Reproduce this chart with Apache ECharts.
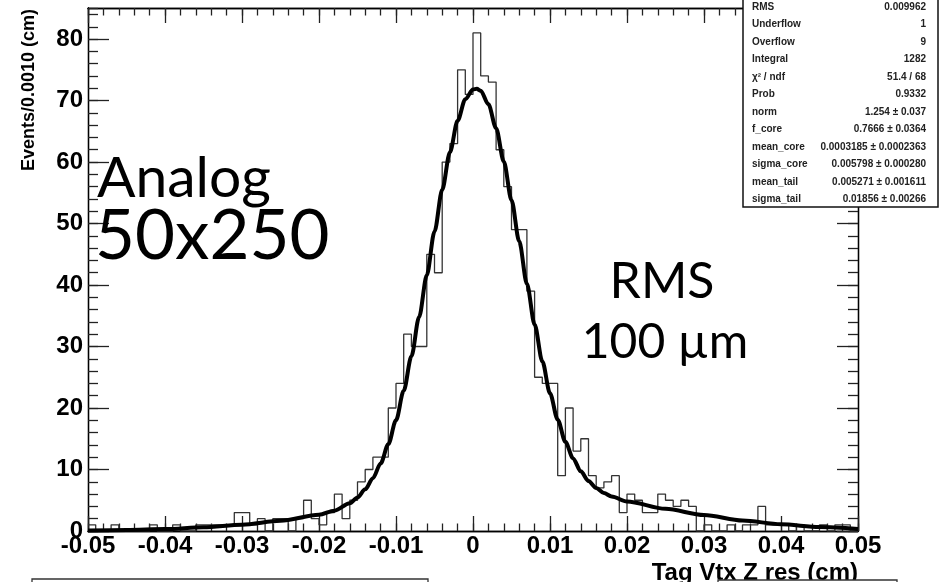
<!DOCTYPE html>
<html><head><meta charset="utf-8">
<script src="https://cdn.jsdelivr.net/npm/echarts@6/dist/echarts.min.js"></script>
<style>html,body{margin:0;padding:0;background:#fff;overflow:hidden}#c{width:943px;height:582px}</style>
</head><body><div id="c"></div>
<script>
// ---- data ----
const binLow = -0.05;
const binWidth = 0.001;
const counts = [
  1,0,0,1,0,0,0,0,1,0,
  0,1,0,0,1,1,1,1,1,3,
  3,1,2,0,2,2,0,2,5,2,
  1,3,6,2,5,8,10,12,12,20,
  24,32,30,30,45,42,60,63,75,71,
  81,74,73,62,56,49,49,39,25,24,
  24,9,20,13,15,9,7,8,9,3,
  6,5,3,3,6,5,4,5,4,0,
  1,0,0,1,0,1,1,4,1,1,
  1,0,1,0,0,1,0,1,1,0
];
const fitX = [-0.05,-0.045,-0.04,-0.035,-0.03,-0.025,-0.02,-0.018,-0.016,-0.015,-0.014,-0.013,-0.012,-0.011,-0.01,
  -0.009,-0.008,-0.007,-0.006,-0.005,-0.004,-0.003,-0.002,-0.001,0,0.0005,
  0.001,0.002,0.003,0.004,0.005,0.006,0.007,0.008,0.009,0.01,0.011,0.012,0.013,0.014,0.015,0.016,0.017,0.018,
  0.02,0.025,0.03,0.035,0.04,0.045,0.05];
const fitY = [0.07,0.16,0.32,0.60,1.03,1.66,2.63,3.31,4.51,5.46,6.78,8.58,10.97,14.1,18.0,
  22.8,28.4,34.8,41.6,48.7,55.5,61.6,66.7,70.2,71.8,71.9,
  71.6,69.4,65.5,60.1,53.8,47.1,40.2,33.6,27.6,22.4,18.1,14.5,11.8,9.7,8.14,7.0,6.19,5.6,
  4.8,3.6,2.6,1.7,1.1,0.64,0.34];
const xMin = -0.05, xMax = 0.05, xMajor = 0.01, xMinor = 0.002;
const yMin = 0, yMax = 85.05, yMajor = 10, yMinor = 2;
const yTitle = 'Events/0.0010 (cm)';
const xTitle = 'Tag Vtx Z res (cm)';
const statsLabels = ['RMS','Underflow','Overflow','Integral','\u03c7\u00b2 / ndf','Prob','norm','f_core','mean_core','sigma_core','mean_tail','sigma_tail'];
const statsValues = ['0.009962','1','9','1282','51.4 / 68','0.9332','1.254 \u00b1 0.037','0.7666 \u00b1 0.0364','0.0003185 \u00b1 0.0002363','0.005798 \u00b1 0.000280','0.005271 \u00b1 0.001611','0.01856 \u00b1 0.00266'];
const noteLeft = ['Analog','50x250'];
const noteRight = ['RMS','100 \u00b5m'];

// ---- build ----
const histPts = counts.map((c, i) => [+(binLow + i * binWidth).toFixed(4), c]);
histPts.push([+(binLow + counts.length * binWidth).toFixed(4), counts[counts.length - 1]]);
const fitPts = fitX.map((x, i) => [x, fitY[i]]);

const LBL = {fontFamily: '"Liberation Sans", Arial, sans-serif', fontWeight: 'bold', fontSize: 24, color: '#000'};
const tickStyle = {color: '#222', width: 1.3};
function xAx(pos, interval, len, labels) {
  return {type: 'value', position: pos, min: xMin, max: xMax, interval: interval,
    axisLine: {show: true, onZero: false, lineStyle: {color: '#000', width: 1.3}},
    axisTick: {show: true, inside: true, length: len, lineStyle: tickStyle},
    axisLabel: labels ? Object.assign({show: true, margin: 3, formatter: v => Math.abs(v) < 1e-9 ? '0' : v.toFixed(2)}, LBL) : {show: false},
    splitLine: {show: false}};
}
function yAx(pos, interval, len, labels) {
  return {type: 'value', position: pos, min: yMin, max: yMax, interval: interval,
    axisLine: {show: true, onZero: false, lineStyle: {color: '#000', width: 1.3}},
    axisTick: {show: true, inside: true, length: len, lineStyle: tickStyle},
    axisLabel: labels ? Object.assign({show: true, margin: 5, showMaxLabel: false}, LBL) : {show: false},
    splitLine: {show: false}};
}

const graphics = [];
graphics.push({type: 'text', x: 29, y: 90, rotation: Math.PI / 2, z: 10,
  style: {text: yTitle, font: 'bold 18px "Liberation Sans"', fill: '#000', textAlign: 'center', textVerticalAlign: 'middle'}});
// bottom boxes (cut off by the image edge)
graphics.push({type: 'rect', shape: {x: 32, y: 579, width: 396, height: 60}, z: 20, style: {fill: '#fff', stroke: '#333', lineWidth: 1.3}});
graphics.push({type: 'text', x: 858, y: 561, z: 10,
  style: {text: xTitle, font: 'bold 24px "Liberation Sans"', fill: '#000', textAlign: 'right', textVerticalAlign: 'top'}});
graphics.push({type: 'rect', shape: {x: 718, y: 580, width: 179, height: 60}, z: 20, style: {fill: '#fff', stroke: '#333', lineWidth: 1.3}});
// stats box
graphics.push({type: 'rect', shape: {x: 743, y: -60, width: 195, height: 267}, z: 20, style: {fill: '#fff', stroke: '#111', lineWidth: 1.5}});
statsLabels.forEach((t, i) => {
  const yy = 7 + i * 17.5;
  graphics.push({type: 'text', x: 752, y: yy, z: 21, style: {text: t, font: 'bold 10px "Liberation Sans"', fill: '#222', textAlign: 'left', textVerticalAlign: 'middle'}});
  graphics.push({type: 'text', x: 926, y: yy, z: 21, style: {text: statsValues[i], font: 'bold 10px "Liberation Sans"', fill: '#222', textAlign: 'right', textVerticalAlign: 'middle'}});
});
// overlay notes
graphics.push({type: 'text', x: 97, y: 179, z: 15, style: {text: noteLeft[0], font: '57px Lato', fill: '#000', textAlign: 'left', textVerticalAlign: 'middle'}});
graphics.push({type: 'text', x: 95, y: 237, z: 15, style: {text: noteLeft[1], font: '69px Lato', fill: '#000', textAlign: 'left', textVerticalAlign: 'middle'}});
graphics.push({type: 'text', x: 662, y: 282, z: 15, style: {text: noteRight[0], font: '50px Lato', fill: '#000', textAlign: 'center', textVerticalAlign: 'middle'}});
graphics.push({type: 'text', x: 665, y: 343, z: 15, style: {text: noteRight[1], font: '48px Lato', fill: '#000', textAlign: 'center', textVerticalAlign: 'middle'}});

const option = {
  animation: false,
  backgroundColor: '#fff',
  grid: {left: 88, right: 85, top: 8, bottom: 51, show: false},
  xAxis: [xAx('bottom', xMajor, 15, true), xAx('bottom', xMinor, 7.5, false), xAx('top', xMajor, 15, false), xAx('top', xMinor, 7.5, false)],
  yAxis: [yAx('left', yMajor, 21, true), yAx('left', yMinor, 10, false), yAx('right', yMajor, 21, false), yAx('right', yMinor, 10, false)],
  series: [
    {type: 'line', name: 'hist', data: histPts, step: 'end', symbol: 'none', xAxisIndex: 0, yAxisIndex: 0,
      lineStyle: {color: '#333', width: 1.3}, z: 3},
    {type: 'line', name: 'fit', data: fitPts, smooth: 0.3, smoothMonotone: 'x', symbol: 'none', xAxisIndex: 0, yAxisIndex: 0,
      lineStyle: {color: '#000', width: 4}, z: 4}
  ],
  graphic: graphics
};
const chart = echarts.init(document.getElementById('c'), null, {renderer: 'canvas'});
chart.setOption(option);
</script>
</body></html>
